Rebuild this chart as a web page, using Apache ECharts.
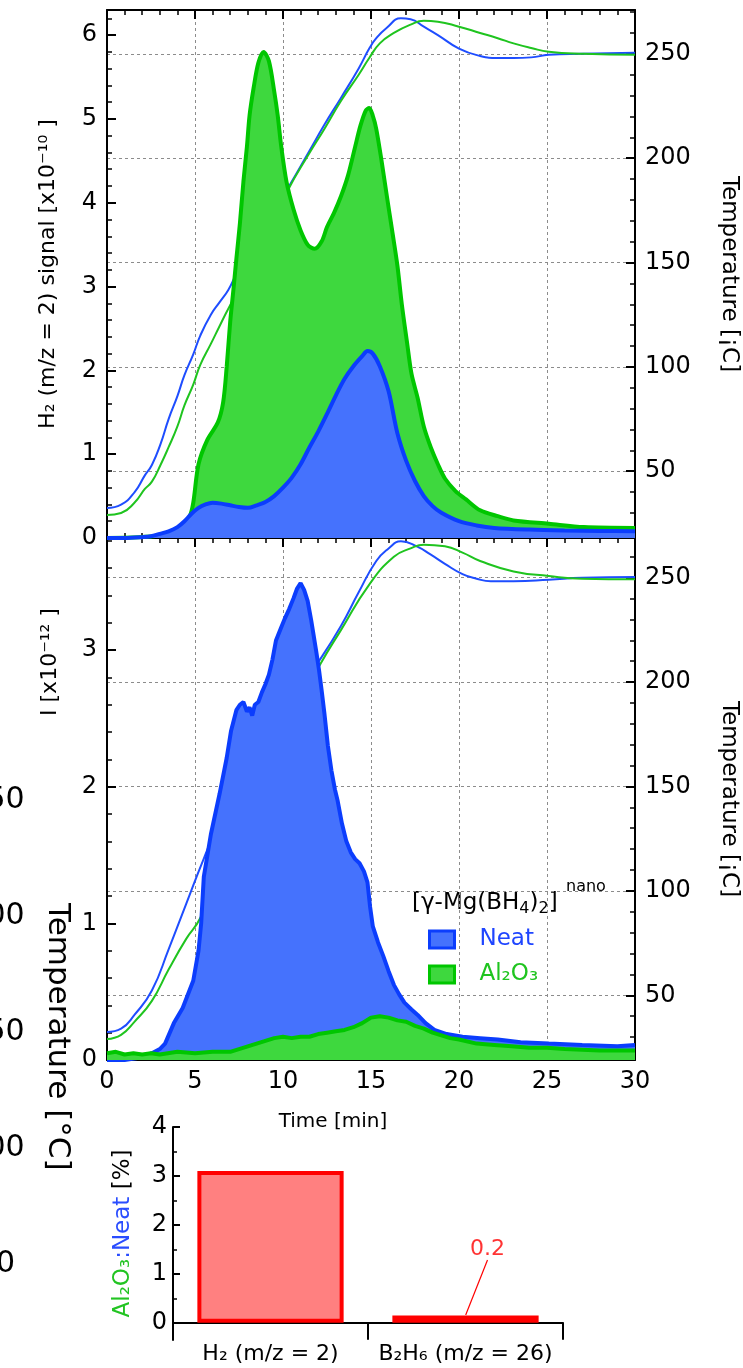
<!DOCTYPE html>
<html><head><meta charset="utf-8">
<script src="https://cdn.jsdelivr.net/npm/echarts@6/dist/echarts.min.js"></script>
<style>html,body{margin:0;padding:0;background:#fff}#c{width:743px;height:1368px}</style>
</head><body><div id="c"></div>
<script>
const FONT = 'DejaVu Sans';
// ---------- data ----------
// top panel: H2 (m/z = 2) signal [x10^-10], time in min
const h2NeatT = [0,1,2,2.5,3,3.5,4,4.4,4.8,5.2,5.6,6.0,6.5,7.0,7.5,8.0,8.5,9.0,9.5,10.0,10.5,11.0,11.5,12.0,12.5,13.0,13.5,14.0,14.5,14.8,15.1,15.5,16.0,16.5,17.0,17.5,18.0,18.5,19.0,20.0,21,22,24,26,28,30];
const h2NeatV = [0,0,0.01,0.02,0.05,0.08,0.13,0.2,0.29,0.36,0.4,0.42,0.41,0.39,0.37,0.36,0.39,0.43,0.5,0.6,0.72,0.88,1.08,1.27,1.48,1.7,1.9,2.05,2.17,2.23,2.2,2.05,1.75,1.25,0.92,0.68,0.5,0.38,0.3,0.2,0.15,0.12,0.1,0.09,0.085,0.08];
const h2AlT = [0,3,4.2,4.7,4.9,5.2,5.7,6.3,6.6,6.8,7.0,7.2,7.35,7.55,7.75,7.95,8.1,8.33,8.6,8.9,9.2,9.5,9.7,9.9,10.2,10.6,11.0,11.4,11.8,12.2,12.5,12.9,13.3,13.7,14.1,14.4,14.7,14.9,15.1,15.3,15.6,15.9,16.2,16.5,16.75,17.05,17.3,17.65,18.0,18.4,18.8,19.2,19.8,20.4,21.2,22.2,23.1,25.1,27.1,30];
const h2AlV = [0,0.03,0.12,0.26,0.42,0.88,1.17,1.38,1.62,2.04,2.58,3.0,3.33,3.75,4.25,4.67,5.04,5.37,5.67,5.8,5.69,5.33,5.04,4.67,4.25,3.92,3.67,3.5,3.45,3.54,3.71,3.88,4.08,4.33,4.67,4.92,5.1,5.13,5.04,4.88,4.5,4.08,3.67,3.25,2.79,2.33,1.96,1.67,1.33,1.08,0.88,0.71,0.56,0.46,0.33,0.26,0.21,0.17,0.13,0.12];
// top panel temperatures [C]
const tNeat1T = [0,0.8,1.57,2.15,2.55,3.04,3.5,4.0,4.4,4.9,5.3,5.9,6.4,6.9,7.35,8.4,9.4,10.3,11.4,12.35,13.3,14.3,14.9,15.3,15.9,16.7,17.25,18.0,18.8,20.0,21.2,22.2,23.1,24.1,25.1,27,30];
const tNeat1V = [32.4,34,40,48,53,63,75,86,96,106,115,125,131,137,144.5,160,174,186,202,216,229,243,252.5,257.5,262.5,267,266.6,263,259,252.5,249,248,248,248.3,249.5,250,250.5];
const tAl1T = [0,0.8,1.57,2.15,2.55,3.04,3.5,4.0,4.4,4.9,5.3,5.9,6.4,6.9,8.0,9.0,10.3,11.4,12.35,13.3,14.3,14.9,15.5,16.3,17.25,18.0,18.8,20.0,21.2,22.2,23.1,24.1,25.1,27.1,30];
const tAl1V = [29,30,35,41.5,45,53,61.5,71.5,81.5,91.5,101,111,119.6,128,145,162,185,201,214,227.5,240,248,255,260,264,265.8,265.4,263,260,257.5,255,252.8,251,250,249.5];
// lower panel: I [x10^-12]
const iNeatT = [0,1,2,2.55,3.0,3.3,3.8,4.3,4.9,5.2,5.35,5.5,5.9,6.4,6.8,7.05,7.35,7.55,7.75,7.95,8.1,8.25,8.4,8.6,8.8,9.0,9.2,9.4,9.6,9.85,10.1,10.35,10.6,10.8,11.0,11.2,11.4,11.6,11.75,11.9,12.05,12.2,12.35,12.55,12.75,12.95,13.1,13.35,13.6,13.85,14.1,14.35,14.6,14.8,14.95,15.1,15.4,15.7,16.0,16.3,16.6,16.9,17.3,17.65,18.1,18.6,19.3,20.2,21.2,22.2,23.5,25.1,27,29,30];
const iNeatV = [0,0,0.02,0.05,0.08,0.12,0.27,0.38,0.58,0.8,1.0,1.34,1.65,1.95,2.21,2.41,2.56,2.6,2.62,2.55,2.58,2.52,2.6,2.62,2.69,2.75,2.82,2.93,3.07,3.15,3.23,3.3,3.38,3.45,3.49,3.44,3.36,3.22,3.1,2.98,2.85,2.7,2.54,2.3,2.12,1.98,1.9,1.73,1.6,1.52,1.47,1.44,1.38,1.3,1.12,0.98,0.86,0.76,0.65,0.55,0.48,0.42,0.37,0.33,0.27,0.22,0.19,0.17,0.16,0.15,0.13,0.12,0.11,0.1,0.11];
const iAlT = [0,0.5,1,1.5,2,2.5,3,4,5,6,7,7.5,8,8.5,9,9.5,10,10.5,11,11.5,12,12.5,13,13.5,14,14.5,15,15.5,16,16.5,17,17.5,18,18.5,19,19.5,20,21,22,23,24,25,26,28,30];
const iAlV = [0.05,0.06,0.04,0.05,0.04,0.05,0.04,0.06,0.05,0.06,0.06,0.08,0.1,0.12,0.14,0.16,0.17,0.16,0.17,0.17,0.19,0.2,0.21,0.22,0.24,0.27,0.31,0.32,0.31,0.29,0.28,0.25,0.23,0.2,0.18,0.16,0.15,0.12,0.11,0.1,0.09,0.09,0.08,0.07,0.07];
// lower panel temperatures [C]
const tNeat2T = [0,0.8,1.57,2.55,3.5,4.5,5.5,6.1,8.0,10.0,11.96,13.3,14.3,15.3,16.0,16.7,17.6,18.4,19.2,20.2,21.0,21.8,23.1,25.1,27,30];
const tNeat2V = [32.4,34,40.7,52.3,72,93.8,115.5,127,156,185,209,227,243,258,264,267.4,265,261,256.6,251.7,249.5,248.3,248.3,249,250,250.3];
const tAl2T = [0,0.8,1.57,2.55,3.5,4.5,5.3,7.0,9.0,10.5,12.15,13.3,14.9,16.3,17.25,18.0,19.2,20.2,21.2,23.1,25.1,27,30];
const tAl2V = [29,31,37.4,47.3,62.3,77,87,120,155,183,209,225,246.7,260,264,265.8,265,262,258,253,250.8,249.5,249.2];
// bar panel
const barCats = ['H₂ (m/z = 2)', 'B₂H₆ (m/z = 26)'];
const barVals = [3.1, 0.15];
// tick labels
const tempTicks = [50, 100, 150, 200, 250];
const tempMinorTicks = [20,30,40,60,70,80,90,110,120,130,140,160,170,180,190,210,220,230,240,260,270];
const barTicks = [0, 1, 2, 3, 4];
const barMinorTicks = [0.5, 1.5, 2.5, 3.5];
const fragLabels = ['250', '200', '150', '100', '50'];

// ---------- chart ----------
const zip = (t, v) => t.map((x, i) => [x, v[i]]);
const BLACK = '#000';
const blueFill = '#4572fd', blueLine = '#0b3dfd', greenFill = '#3ed83e', greenLine = '#00c600';
const blueT = '#1e4dff', greenT = '#1fc41f';
const dash = {color: '#8c8c8c', type: [3, 3], width: 1};
const axLine = {show: true, onZero: false, lineStyle: {color: BLACK, width: 2}};

function xVal(grid, pos, labels, split) {
  return {type: 'value', gridIndex: grid, position: pos, min: 0, max: 30, interval: 5,
    axisLine: axLine,
    axisTick: {show: true, inside: true, length: 9, lineStyle: {color: BLACK, width: 2}},
    minorTick: {show: true, splitNumber: 5, length: 5, lineStyle: {color: BLACK, width: 1.5}},
    axisLabel: {show: labels, color: BLACK, fontSize: 24, fontFamily: FONT, margin: 10},
    splitLine: {show: split, lineStyle: dash}, minorSplitLine: {show: false}};
}
function yLeft(grid, max, name, gap) {
  return {type: 'value', gridIndex: grid, position: 'left', min: 0, max: max, interval: 1,
    axisLine: axLine,
    axisTick: {show: true, inside: true, length: 9, lineStyle: {color: BLACK, width: 2}},
    minorTick: {show: true, splitNumber: 5, length: 5, lineStyle: {color: BLACK, width: 1.5}},
    axisLabel: {color: BLACK, fontSize: 24, fontFamily: FONT, margin: 10, showMaxLabel: false},
    splitLine: {show: false},
    name: name, nameLocation: 'middle', nameRotate: 90, nameGap: gap,
    nameTextStyle: {color: BLACK, fontSize: 22, fontFamily: FONT}};
}
function yRight(grid, min, max) {
  return {type: 'value', gridIndex: grid, position: 'right', min: min, max: max,
    axisLine: axLine,
    axisTick: {show: true, inside: true, length: 9, customValues: tempTicks, lineStyle: {color: BLACK, width: 2}},
    axisLabel: {customValues: tempTicks, color: BLACK, fontSize: 24, fontFamily: FONT, margin: 10},
    splitLine: {show: true, lineStyle: dash},
    name: 'Temperature [¡C]', nameLocation: 'middle', nameRotate: -90, nameGap: 82,
    nameTextStyle: {color: BLACK, fontSize: 23, fontFamily: FONT}};
}
function yRightMinor(grid, min, max) {
  return {type: 'value', gridIndex: grid, position: 'right', min: min, max: max,
    axisLine: {show: false, onZero: false},
    axisTick: {show: true, inside: true, length: 5, customValues: tempMinorTicks.filter(v => v > min && v < max), lineStyle: {color: BLACK, width: 1.5}},
    axisLabel: {show: false}, splitLine: {show: false}};
}
function tempLine(name, t, v, color, xi, yi) {
  return {name: name, type: 'line', xAxisIndex: xi, yAxisIndex: yi, data: zip(t, v), showSymbol: false,
    smooth: 0.5, lineStyle: {color: color, width: 2}, itemStyle: {color: color}, z: 1, silent: true};
}
function fillLine(name, t, v, fill, stroke, xi, yi, z, smooth) {
  return {name: name, type: 'line', xAxisIndex: xi, yAxisIndex: yi, data: zip(t, v), showSymbol: false,
    smooth: smooth, lineStyle: {color: stroke, width: 4}, itemStyle: {color: fill},
    areaStyle: {color: fill, opacity: 1}, z: z, silent: true};
}
const txt = (o) => Object.assign({fill: BLACK, fontFamily: FONT}, o);

const option = {
  animation: false,
  backgroundColor: '#fff',
  grid: [
    {left: 107, top: 10, width: 528, height: 528, outerBoundsMode: 'none'},
    {left: 107, top: 538, width: 528, height: 522, outerBoundsMode: 'none'},
    {left: 173, top: 1127, width: 390, height: 213, outerBoundsMode: 'none'}
  ],
  xAxis: [
    xVal(0, 'bottom', false, true),
    xVal(0, 'top', false, false),
    xVal(1, 'bottom', true, true),
    xVal(1, 'top', false, false),
    {type: 'category', gridIndex: 2, data: barCats,
      axisLine: {show: true, onZero: true, lineStyle: {color: BLACK, width: 2}},
      axisTick: {show: true, inside: false, length: 17, interval: 0, alignWithLabel: false, lineStyle: {color: BLACK, width: 2}},
      axisLabel: {color: BLACK, fontSize: 22, fontFamily: FONT, margin: 3, interval: 0, hideOverlap: false}}
  ],
  yAxis: [
    yLeft(0, 6.3, 'H₂ (m/z = 2) signal [x10⁻¹⁰ ]', 48),
    yRight(0, 18, 271),
    yRightMinor(0, 18, 271),
    yLeft(1, 3.82, '', 48),
    yRight(1, 19, 269),
    yRightMinor(1, 19, 269),
    {type: 'value', gridIndex: 2, position: 'left', min: -0.35, max: 4,
      axisLine: axLine,
      axisTick: {show: true, inside: true, length: 7, customValues: barTicks, lineStyle: {color: BLACK, width: 2}},
      axisLabel: {customValues: barTicks, color: BLACK, fontSize: 24, fontFamily: FONT, margin: 6},
      splitLine: {show: false},
      name: '{g|Al₂O₃}{b|:Neat}{k| [%]}', nameLocation: 'middle', nameRotate: 90, nameGap: 38,
      nameTextStyle: {fontSize: 23, fontFamily: FONT, rich: {
        g: {color: '#22c422', fontSize: 23, fontFamily: FONT},
        b: {color: '#2a4dff', fontSize: 23, fontFamily: FONT},
        k: {color: BLACK, fontSize: 23, fontFamily: FONT}}}},
    {type: 'value', gridIndex: 2, position: 'left', min: -0.35, max: 4,
      axisLine: {show: false, onZero: false},
      axisTick: {show: true, inside: true, length: 4, customValues: barMinorTicks, lineStyle: {color: BLACK, width: 1.5}},
      axisLabel: {show: false}, splitLine: {show: false}}
  ],
  legend: {
    orient: 'vertical', left: 428, top: 928, padding: 0, icon: 'rect', itemWidth: 25, itemHeight: 17, itemGap: 12,
    selectedMode: false,
    textStyle: {fontSize: 23, fontFamily: FONT, padding: [0, 0, 0, 20]},
    data: [
      {name: 'Neat', itemStyle: {color: blueFill, borderColor: blueLine, borderWidth: 3}, textStyle: {color: '#1f45ff'}},
      {name: 'Al₂O₃', itemStyle: {color: greenFill, borderColor: greenLine, borderWidth: 3}, textStyle: {color: '#1fc41f'}}
    ]
  },
  series: [
    tempLine('T neat top', tNeat1T, tNeat1V, blueT, 0, 1),
    tempLine('T Al top', tAl1T, tAl1V, greenT, 0, 1),
    fillLine('Al₂O₃', h2AlT, h2AlV, greenFill, greenLine, 0, 0, 2, 0.3),
    fillLine('Neat', h2NeatT, h2NeatV, blueFill, blueLine, 0, 0, 3, 0.3),
    tempLine('T neat low', tNeat2T, tNeat2V, blueT, 2, 4),
    tempLine('T Al low', tAl2T, tAl2V, greenT, 2, 4),
    fillLine('Neat', iNeatT, iNeatV, blueFill, blueLine, 2, 3, 2, false),
    fillLine('Al₂O₃', iAlT, iAlV, greenFill, greenLine, 2, 3, 3, false),
    {name: 'ratio', type: 'bar', xAxisIndex: 4, yAxisIndex: 6, barWidth: '75%', silent: true,
      data: barVals,
      itemStyle: {color: '#ff8080', borderColor: '#ff0000', borderWidth: 4}},
    // value annotation for the small bar, anchored on its top centre
    {name: 'ratio label', type: 'scatter', xAxisIndex: 4, yAxisIndex: 6, silent: true,
      symbol: 'circle', symbolSize: 1, itemStyle: {color: 'rgba(0,0,0,0)'},
      data: [[barCats[1], barVals[1]]],
      label: {show: true, position: 'top', color: '#ff0000', fontSize: 22, fontFamily: FONT,
        formatter: p => (Math.round(p.value[1] * 10) / 10).toFixed(1)},
      labelLayout: {dx: 22, dy: -50},
      labelLine: {show: true, lineStyle: {color: '#ff0000', width: 1.2}}}
  ],
  graphic: [
    {type: 'text', x: 333, y: 1122, style: txt({text: 'Time [min]', fontSize: 20, align: 'center', verticalAlign: 'middle', textAlign: 'center', textVerticalAlign: 'middle'})},
    {type: 'text', x: 50, y: 662, rotation: Math.PI / 2, style: txt({text: 'I [x10⁻¹² ]', fontSize: 22, align: 'center', verticalAlign: 'middle', textAlign: 'center', textVerticalAlign: 'middle'})},
    {type: 'text', x: 412, y: 903, style: txt({text: '{a|[γ-Mg(BH}{s|4}{a|)}{s|2}{a|]}', align: 'left', verticalAlign: 'middle', textAlign: 'left', textVerticalAlign: 'middle',
      rich: {a: {fontSize: 23, fontFamily: FONT, fill: BLACK, color: BLACK},
             s: {fontSize: 16, fontFamily: FONT, fill: BLACK, color: BLACK, padding: [12, 0, 0, 0]}}})},
    {type: 'text', x: 566, y: 887, style: txt({text: 'nano', fontSize: 16, align: 'left', verticalAlign: 'middle', textAlign: 'left', textVerticalAlign: 'middle'})},
    {type: 'text', x: 57, y: 903, rotation: -Math.PI / 2, style: txt({text: 'Temperature [°C]', fontSize: 31, align: 'left', verticalAlign: 'middle', textAlign: 'left', textVerticalAlign: 'middle'})}
  ].concat(fragLabels.map((s, i) => ({type: 'text', x: -4, y: 800 + i * 116,
    style: txt({text: s, fontSize: 30, align: 'center', verticalAlign: 'middle', textAlign: 'center', textVerticalAlign: 'middle'})})))
};
const chart = echarts.init(document.getElementById('c'));
chart.setOption(option);
</script></body></html>
